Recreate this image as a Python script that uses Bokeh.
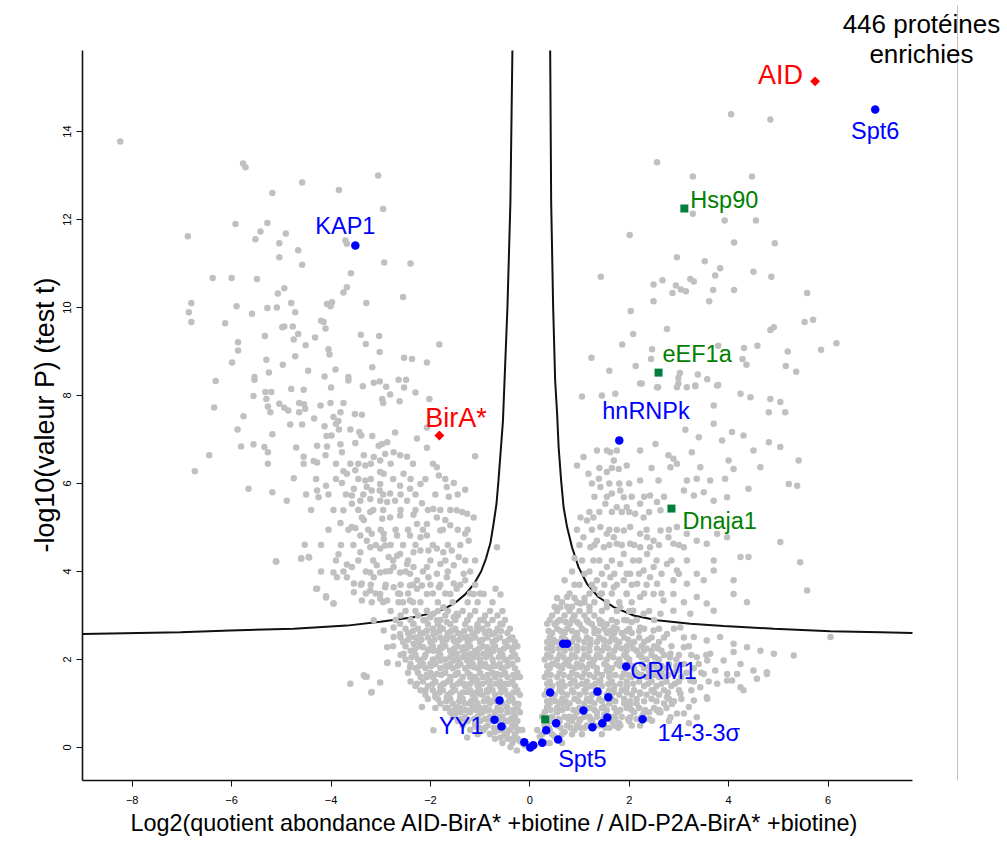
from bokeh.plotting import figure
from bokeh.models import Range1d, FixedTicker, Label, Title
from bokeh.embed import file_html
from bokeh.resources import INLINE

# ---------------- data ----------------
x_ticks = [-8, -6, -4, -2, 0, 2, 4, 6]
y_ticks = [0, 2, 4, 6, 8, 10, 12, 14]
x_axis_extent = (-9.0, 7.70)
y_axis_extent = (-0.75, 15.84)

x_title = "Log2(quotient abondance AID-BirA* +biotine / AID-P2A-BirA* +biotine)"
y_title = "-log10(valeur P) (test t)"
note_lines = ["446 protéines", "enrichies"]

# threshold curve (two branches)
curve_left_x = [-0.35, -0.39, -0.45, -0.54, -0.59, -0.63, -0.67, -0.73, -0.79, -0.88, -0.98, -1.12, -1.30, -1.50, -1.70, -1.95,
                -2.34, -3.01, -3.68, -4.75, -6.03, -7.03, -9.0]
curve_left_y = [15.84, 12.4, 10.0, 7.43, 6.67, 6.07, 5.54, 5.08, 4.66, 4.30, 4.00, 3.72, 3.48, 3.29, 3.16, 3.06,
                2.96, 2.86, 2.77, 2.70, 2.66, 2.62, 2.58]
curve_right_x = [0.41, 0.43, 0.47, 0.51, 0.55, 0.58, 0.63, 0.68, 0.75, 0.85, 0.98, 1.15, 1.38, 1.69, 2.09, 2.56, 3.23, 3.90,
                 4.91, 6.05, 7.05, 7.70]
curve_right_y = [15.84, 12.4, 10.0, 8.34, 7.58, 6.83, 6.07, 5.46, 5.01, 4.55, 4.10, 3.72, 3.42, 3.19, 3.00, 2.89, 2.81, 2.76,
                 2.70, 2.64, 2.62, 2.60]

# background proteins (grey), grouped by region
left_upper = [(-8.24,13.77),(-5.77,13.27),(-5.72,13.19),(-4.58,12.84),(-3.84,12.67),(-3.05,13.0),(-5.18,12.6),(-2.95,12.24),
 (-5.92,11.9),(-5.28,11.92),(-5.42,11.73),(-4.91,11.68),(-6.88,11.62),(-5.52,11.55),(-5.04,11.46),(-3.71,11.52),(-3.68,11.45),
 (-4.66,11.3),(-5.04,11.14),(-4.58,10.97),(-2.93,11.02),(-2.40,11.0),(-3.60,10.78),(-6.38,10.67),(-6.0,10.67),(-5.49,10.65),
 (-4.94,10.44),(-5.07,10.32),(-3.68,10.46),(-3.75,10.34),(-2.55,10.24),(-6.81,10.1),(-6.86,9.89),(-6.81,9.67),(-5.9,10.03),
 (-5.28,9.99),(-5.09,10.0),(-4.8,10.1),(-4.72,9.89),(-5.59,9.86),(-4.08,10.08),(-3.98,10.12),(-4.01,10.03),(-3.29,10.1),
 (-6.13,9.64),(-4.2,9.7),(-4.15,9.67),(-4.11,9.52),(-4.98,9.55),(-4.94,9.57),(-4.77,9.57),(-5.33,9.35),(-4.66,9.4),(-4.75,9.27),
 (-4.51,9.14),(-4.32,9.32),(-3.4,9.38),(-3.3,9.17),(-3.03,9.35),(-3.02,8.99),(-5.87,9.21),(-5.87,9.02),(-5.99,8.75),(-4.05,9.05),
 (-4.03,8.93),(-4.72,8.89),(-5.3,8.81),(-4.97,8.7),(-1.82,9.16),(-2.53,8.86),(-2.37,8.83),(-2.07,8.75),(-3.17,8.64),(-3.91,8.59),
 (-4.46,8.56),(-5.25,8.52),(-6.32,8.33),(-5.54,8.42),(-5.54,8.36),(-4.13,8.43),(-3.65,8.42),(-3.65,8.34),(-3.14,8.29),(-3.02,8.32),
 (-2.89,8.2),(-2.64,8.36),(-2.49,8.36),(-2.53,8.18),(-2.3,8.07),(-3.36,8.21),(-4.0,8.18),(-4.55,8.13),(-4.8,8.15),(-5.32,8.08),
 (-5.2,8.08),(-5.56,7.99),(-5.3,7.92),(-5.27,7.75),(-5.22,7.62),(-6.35,7.73),(-5.76,7.53),(-5.88,7.23),(-5.04,7.81),(-4.94,7.72),
 (-4.86,7.66),(-4.64,7.83),(-4.54,7.8),(-4.52,7.7),(-4.64,7.62),(-4.21,7.77),(-4.01,7.83),(-3.75,7.83),(-3.81,7.62),(-3.95,7.51),
 (-4.34,7.48),(-3.52,7.58),(-3.38,7.56),(-2.97,7.92),(-2.95,7.83),(-2.81,8.02),(-2.62,7.87),(-2.02,7.92),(-4.82,7.34),(-4.58,7.34),
 (-4.13,7.30),(-3.9,7.36),(-3.85,7.42),(-3.84,7.23),(-3.61,7.23),(-3.43,7.17),(-3.39,7.09),(-3.17,7.08),(-2.97,6.9),(-2.71,7.16),
 (-2.27,7.02),(-2.07,7.27),(-2.07,6.81),(-5.18,7.12),(-5.81,6.84),(-5.56,6.89),(-5.34,6.83),(-4.7,6.82),(-4.28,6.86),(-4.09,7.08),
 (-3.99,7.09),(-4.08,6.84),(-3.81,6.89),(-3.51,6.92),(-3.04,6.86),(-2.87,6.94)]

left_mid = [(-6.45,6.64),(-5.27,6.71),(-5.27,6.45),(-4.55,6.61),(-4.35,6.51),(-4.28,6.48),(-4.11,6.64),(-3.78,6.71),(-3.61,6.45),
 (-3.34,6.64),(-3.14,6.6),(-3.01,6.52),(-2.91,6.67),(-2.74,6.71),(-2.61,6.64),(-2.47,6.61),(-6.74,6.28),(-4.75,6.12),(-3.75,6.28),
 (-3.68,6.22),(-3.51,6.3),(-3.31,6.41),(-3.01,6.26),(-2.94,6.22),(-2.54,6.22),(-1.87,6.37),(-1.83,6.18),(-1.1,6.62),
 (-5.66,5.88),(-5.18,5.8),(-4.89,5.61),(-4.28,5.84),(-4.25,5.69),(-4.1,5.95),(-3.78,6.01),(-3.54,5.88),(-3.58,5.73),(-3.31,6.07),
 (-3.28,5.92),(-3.18,5.84),(-3.01,5.99),(-3.02,5.84),(-2.81,5.77),(-2.61,5.95),(-2.41,5.88),(-2.2,5.99),(-1.67,5.92),(-1.53,6.01),
 (-1.3,5.86),(-3.75,5.39),(-3.58,5.54),(-3.41,5.61),(-3.21,5.65),(-3.01,5.61),(-2.87,5.58),(-2.71,5.61),(-2.47,5.61),(-2.17,5.55),
 (-1.94,5.42),(-1.63,5.7),(-3.81,5.1),(-3.58,5.01),(-3.51,4.99),(-3.38,5.23),(-3.34,5.17),(-3.21,5.35),(-2.97,5.2),(-2.81,5.23),
 (-2.61,5.27),(-2.34,5.29),(-2.27,5.08),(-2.07,5.08),(-1.87,5.23),(-1.7,5.17),(-1.47,5.39),(-1.36,5.35),(-1.26,5.31),(-1.13,5.23),
 (-3.41,4.82),(-3.18,4.86),(-2.94,4.86),(-2.94,4.74),(-2.67,4.82),(-2.41,4.82),(-2.2,4.78),(-2.07,4.82),(-1.8,4.93),(-1.6,5.05),
 (-1.3,4.86),(-1.23,4.7),(-4.53,4.61),(-4.6,4.29),(-4.45,4.33),(-5.11,4.23),(-3.85,4.39),(-3.68,4.16),(-3.58,4.1),(-3.41,4.44),
 (-3.28,4.7),(-3.21,4.55),(-3.01,4.52),(-2.91,4.59),(-2.84,4.33),(-2.67,4.36),(-2.61,4.4),(-2.47,4.17),(-2.34,4.44),(-2.2,4.48),
 (-2.04,4.48),(-1.87,4.52),(-1.74,4.44),(-1.57,4.48),(-1.43,4.33),(-1.8,4.17),(-1.53,4.14),(-0.66,4.55),(-3.08,4.14),(-2.74,4.1),
 (-2.34,4.1),(-2.07,4.1),(-3.95,3.98),(-3.88,3.87),(-3.68,3.87),(-3.54,3.73),(-3.38,3.73),(-3.21,3.98),(-3.14,3.87),(-3.01,3.98),
 (-2.81,4.01),(-2.61,3.98),(-2.41,3.95),(-2.27,3.8),(-2.17,3.68),(-2.04,3.87),(-1.87,3.95),(-1.67,3.87),(-1.53,3.73),(-1.33,3.95),
 (-1.3,3.8),(-4.28,3.61),(-4.1,3.44),(-3.95,3.27),(-3.54,3.53),(-3.38,3.34),(-3.21,3.57),(-3.01,3.49),(-2.91,3.64),(-2.74,3.64),
 (-2.61,3.49),(-2.41,3.68),(-2.27,3.61),(-2.07,3.49),(-1.83,3.64),(-1.6,3.49),(-1.47,3.61),(-1.13,3.49),(-0.93,3.49),(-0.69,3.61),
 (-0.59,3.48),(-3.18,3.3),(-3.01,3.38),(-2.87,3.34),(-2.64,3.3),(-2.41,3.34),(-2.2,3.3),(-2.07,3.11),(-1.94,3.04),(-1.74,3.19),
 (-1.53,2.96),(-3.14,2.89),(-2.94,2.66),(-2.74,2.73),(-2.61,2.81),(-2.34,2.81),(-2.14,2.89),(-2.0,2.96),(-1.87,2.89),(-1.67,2.85),
 (-1.47,3.04),(-1.26,2.89),(-1.06,2.73),(-0.93,2.89),(-0.76,2.58),(-0.59,2.81),(-5.1,4.23),(-4.6,4.3),(-4.44,4.32),(-4.3,3.61),
 (-4.1,3.41),(-3.95,3.27)]

left_lower = [(-2.87,2.28),(-2.74,2.51),(-2.61,2.58),(-2.41,2.51),(-2.34,2.36),(-2.2,2.58),(-2.07,2.66),(-1.94,2.58),(-1.8,2.73),
 (-1.67,2.51),(-1.53,2.43),(-1.4,2.58),(-1.26,2.51),(-1.13,2.58),(-1.0,2.43),(-0.86,2.28),(-0.73,2.2),(-0.59,2.13),(-0.39,2.47),
 (-0.33,2.28),(-2.54,2.13),(-2.34,2.2),(-2.14,2.28),(-1.94,2.2),(-1.8,2.28),(-1.6,2.2),(-1.47,2.13),(-1.33,2.28),(-1.2,2.13),
 (-1.06,2.13),(-0.93,2.13),(-2.87,1.92),(-2.41,1.83),(-2.2,1.98),(-2.0,1.9),(-1.8,1.98),(-1.67,1.83),(-1.53,1.98),(-1.4,1.9),
 (-1.26,1.98),(-1.13,1.83),(-1.0,1.9),(-0.86,1.83),(-0.73,1.9),(-0.59,1.83),(-0.46,1.98),(-0.29,1.6),(-2.27,1.45),(-2.07,1.6),
 (-1.87,1.67),(-1.74,1.45),(-1.6,1.52),(-1.47,1.67),(-1.33,1.45),(-1.2,1.6),(-1.06,1.52),(-0.93,1.6),(-0.8,1.52),(-0.66,1.67),
 (-0.49,1.45),(-3.34,1.64),(-3.28,1.61),(-3.61,1.45),(-3.18,1.26),(-3.01,1.48),(-2.86,1.93),(-3.31,1.61),(-3.19,1.25),(-2.17,0.92),
 (-1.8,1.3),(-1.67,1.14),(-1.53,1.3),(-1.4,1.14),(-1.26,1.26),(-1.13,1.07),(-1.0,1.22),(-0.86,1.3),(-0.73,1.07),(-0.59,1.37),
 (-0.39,1.14),(-0.26,1.26),(-1.47,0.92),(-1.26,0.84),(-1.13,0.92),(-1.0,0.77),(-0.86,0.84),(-0.59,0.84),(-0.46,0.92),(-0.33,0.77),
 (-0.23,0.99),(-1.06,0.46),(-0.93,0.39),(-0.8,0.31),(-0.66,0.39),(-0.59,0.23),(-0.46,0.31),(-0.33,0.16),(-0.23,0.39),(-0.39,0.01),
 (-0.26,-0.07),(-1.94,0.39),(-1.26,0.23),(-0.1,0.05),(-0.2,0.15),(-0.35,0.2),(-0.5,0.3),(-0.7,0.35),(-0.9,0.45),(-1.1,0.55),
 (-1.3,0.65),(-1.5,0.75),(-1.7,0.9),(-0.15,0.4),(-0.3,0.55),(-0.45,0.6),(-0.6,0.7),(-0.85,0.65),(-1.0,0.9),(-1.2,1.0),(-1.4,1.05),
 (-1.65,1.1),(-1.9,1.15),(-2.1,1.3),(-2.3,1.4)]

# dense part of the left cloud: (y, [x values])
left_dense_rows = [(0.1, [-0.15,-0.35,-0.55]), (0.2, [-0.25,-0.45,-0.7]), (0.3, [-0.3,-0.5,-0.8,-1.05]),
 (0.4, [-0.2,-0.4,-0.6,-0.95,-1.2]), (0.5, [-0.35,-0.6,-0.85,-1.1,-1.35]), (0.6, [-0.25,-0.5,-0.75,-1.0,-1.25,-1.45]),
 (0.7, [-0.3,-0.55,-0.8,-1.05,-1.3,-1.55]), (0.8, [-0.2,-0.45,-0.7,-0.95,-1.2,-1.4,-1.6]),
 (0.9, [-0.25,-0.45,-0.65,-0.9,-1.15,-1.4,-1.65,-1.9]), (1.0, [-0.3,-0.55,-0.8,-1.05,-1.3,-1.55,-1.8]),
 (1.1, [-0.35,-0.6,-0.85,-1.1,-1.35,-1.6,-1.85,-2.05]), (1.2, [-0.2,-0.45,-0.7,-0.95,-1.15,-1.4,-1.65,-1.9,-2.1]),
 (1.3, [-0.25,-0.5,-0.75,-1.0,-1.2,-1.5,-1.75,-1.95,-2.2]), (1.4, [-0.3,-0.55,-0.8,-1.05,-1.3,-1.55,-1.8,-2.05]),
 (1.5, [-0.35,-0.6,-0.85,-1.15,-1.4,-1.65,-1.9,-2.15,-2.4]), (1.6, [-0.2,-0.45,-0.7,-0.95,-1.1,-1.35,-1.6,-1.95,-2.2]),
 (1.7, [-0.25,-0.5,-0.75,-1.0,-1.25,-1.45,-1.7,-2.0,-2.25,-2.45]), (1.8, [-0.3,-0.55,-0.8,-1.05,-1.3,-1.55,-1.8,-2.1,-2.3]),
 (1.9, [-0.35,-0.6,-0.9,-1.15,-1.4,-1.6,-1.9,-2.15,-2.4,-2.65]), (2.0, [-0.25,-0.5,-0.75,-1.0,-1.2,-1.45,-1.7,-1.95,-2.25,-2.5]),
 (2.1, [-0.3,-0.55,-0.8,-1.05,-1.3,-1.55,-1.8,-2.1,-2.3,-2.6]), (2.2, [-0.35,-0.6,-0.85,-1.1,-1.35,-1.6,-1.85,-2.05,-2.4]),
 (2.3, [-0.25,-0.45,-0.7,-0.95,-1.2,-1.45,-1.7,-1.95,-2.2,-2.5,-2.75]), (2.4, [-0.3,-0.5,-0.75,-1.0,-1.25,-1.5,-1.75,-2.0,-2.25,-2.55]),
 (2.5, [-0.35,-0.6,-0.85,-1.1,-1.35,-1.55,-1.8,-2.05,-2.3,-2.6]), (2.6, [-0.45,-0.7,-0.9,-1.15,-1.45,-1.65,-1.9,-2.15,-2.45]),
 (2.7, [-0.4,-0.65,-0.95,-1.2,-1.5,-1.75,-1.95,-2.25,-2.5]), (2.8, [-0.55,-0.85,-1.05,-1.3,-1.6,-1.85,-2.05,-2.35]),
 (2.9, [-0.5,-0.75,-1.0,-1.25,-1.5,-1.8,-2.1,-2.4,-2.7]), (3.0, [-0.65,-0.9,-1.2,-1.45,-1.7,-2.0,-2.25,-2.6]),
 (3.1, [-0.55,-0.8,-1.1,-1.35,-1.65,-1.85,-2.3,-2.5,-2.8]), (3.3, [-0.75,-1.05,-1.25,-1.55,-1.85,-2.35,-2.55,-2.95]),
 (3.5, [-1.0,-1.2,-1.7,-1.95,-2.45,-2.65,-3.1,-3.3]), (3.7, [-1.1,-1.4,-1.8,-2.0,-2.35,-2.6,-2.9,-3.2,-3.4]),
 (4.0, [-1.2,-1.65,-2.15,-2.5,-2.9,-3.3,-3.75,-4.2]), (4.25, [-1.1,-1.3,-1.7,-2.0,-2.45,-2.75,-3.15,-3.45,-3.9]),
 (4.6, [-1.4,-1.65,-1.95,-2.3,-2.55,-2.8,-3.1,-3.55,-3.8,-4.2]), (4.95, [-1.25,-1.45,-1.75,-2.15,-2.45,-2.7,-3.0,-3.25,-3.65,-4.05]),
 (5.4, [-1.6,-1.8,-2.05,-2.3,-2.6,-2.95,-3.15,-3.45,-3.95,-4.4]), (5.75, [-1.45,-1.9,-2.3,-2.6,-2.95,-3.35,-3.7,-4.05,-4.5]),
 (6.1, [-1.7,-2.1,-2.4,-2.75,-3.2,-3.45,-3.9,-4.3]), (6.45, [-1.95,-2.35,-2.8,-3.2,-3.45,-3.9,-4.55]),
 (0.45, [-0.28,-0.52,-0.72,-1.02]), (0.65, [-0.38,-0.62,-0.9,-1.12,-1.38]), (0.85, [-0.33,-0.58,-0.82,-1.08,-1.32,-1.52]),
 (1.05, [-0.42,-0.68,-0.92,-1.18,-1.42,-1.68]), (1.25, [-0.33,-0.58,-0.85,-1.08,-1.35,-1.58,-1.82]),
 (1.45, [-0.42,-0.68,-0.95,-1.2,-1.45,-1.72,-1.95]), (1.65, [-0.33,-0.58,-0.85,-1.2,-1.5,-1.78,-2.08]),
 (1.85, [-0.45,-0.7,-0.95,-1.22,-1.45,-1.7,-1.98,-2.22]), (2.05, [-0.38,-0.62,-0.88,-1.12,-1.35,-1.6,-1.85,-2.12,-2.38]),
 (2.25, [-0.52,-0.78,-1.02,-1.28,-1.52,-1.78,-2.0,-2.3]), (2.45, [-0.42,-0.68,-0.95,-1.2,-1.42,-1.68,-1.92,-2.18,-2.45]),
 (2.65, [-0.58,-0.82,-1.05,-1.32,-1.58,-1.82,-2.08,-2.35])]

right_upper = [(4.05,14.39),(4.84,14.27),(2.56,13.3),(3.28,12.98),(4.47,12.98),(3.28,12.13),(3.92,11.98),(4.55,11.98),(2.01,11.65),
 (4.11,11.48),(4.93,11.46),(2.96,11.14),(3.52,11.05),(3.83,10.89),(3.73,10.73),(4.5,10.81),(4.86,10.7),(1.43,10.7),(2.49,10.52),
 (2.67,10.62),(3.23,10.65),(3.3,10.59),(2.94,10.5),(3.04,10.41),(3.14,10.37),(2.87,10.33),(3.69,10.4),(4.11,10.4),(5.58,10.33),
 (2.49,10.14),(3.61,10.14),(2.03,9.92),(2.76,9.51),(2.08,9.4),(4.84,9.49),(4.91,9.55),(5.53,9.67),(5.7,9.72),(1.86,9.16),
 (2.46,9.05),(3.79,9.13),(4.31,9.08),(4.58,9.13),(5.19,9.0),(5.86,9.04),(6.17,9.19),(1.24,8.86),(1.6,8.56),(2.13,8.67),(2.44,8.83),
 (4.28,8.83),(4.36,8.7),(5.15,8.67),(5.36,8.54),(3.02,8.51),(3.38,8.48),(3.57,8.37),(3.79,8.24),(2.99,8.4),(2.25,8.27),(2.58,8.19),
 (2.96,8.19),(3.16,8.19),(3.33,8.21)]

right_mid = [(2.22,8.27),(2.56,8.19),(2.99,8.27),(3.33,8.23),(3.77,8.23),(1.05,7.98),(1.45,8.0),(1.72,8.04),(4.24,8.04),(4.44,7.96),
 (4.84,7.92),(5.04,7.85),(3.7,7.77),(4.81,7.62),(5.14,7.62),(3.7,7.36),(4.07,7.17),(3.87,6.98),(3.4,7.05),(4.3,7.09),(3.13,7.22),
 (4.81,6.94),(5.04,6.83),(4.5,6.75),(2.22,6.75),(2.53,6.9),(1.35,6.75),(1.62,6.71),(1.69,6.52),(1.08,6.6),(0.95,6.41),(1.18,6.22),
 (1.39,6.11),(1.55,6.26),(1.79,6.33),(1.95,6.41),(2.79,6.64),(2.89,6.56),(2.96,6.45),(2.83,6.37),(3.26,6.71),(3.43,6.37),(4.0,6.52),
 (4.1,6.33),(3.93,6.11),(3.63,6.07),(3.36,6.11),(3.16,6.07),(2.59,6.07),(2.22,6.07),(4.64,6.37),(5.41,6.52),(5.21,5.99),(5.38,5.95),
 (4.4,5.88),(1.42,5.92),(1.65,5.77),(1.82,5.84),(1.89,5.69),(1.52,5.54),(1.75,5.46),(1.95,5.46),(2.22,5.54),(2.42,5.73),(2.56,5.58),
 (2.63,5.39),(3.1,5.84),(3.3,5.73),(3.5,5.8),(3.7,5.61),(3.97,5.69),(2.12,5.31),(2.29,5.23),(1.02,5.23),(1.15,5.16),(1.28,5.23),
 (1.42,5.01),(1.55,4.86),(1.35,4.7),(1.69,4.78),(1.89,4.93),(2.02,5.01),(2.22,4.86),(2.36,4.78),(2.49,4.7),(2.63,4.93),(2.79,4.78),
 (2.96,5.01),(3.16,4.86),(3.36,4.7),(3.56,4.63),(3.77,4.86),(3.97,4.78),(5.04,4.67),(1.08,4.78),(1.22,4.55),(1.49,4.55),(1.75,4.63),
 (2.02,4.63),(2.22,4.55),(2.42,4.55),(2.89,4.63),(3.1,4.55),(1.89,4.4),(2.08,4.25),(2.36,4.4),(1.28,4.25),(1.55,4.1),(1.82,4.17),
 (2.02,3.95),(2.29,4.02),(2.49,4.1),(2.76,4.17),(2.96,4.02),(3.16,4.25),(3.36,3.95),(3.7,4.25),(4.24,4.33),(4.4,4.33),(5.44,4.21),
 (1.35,3.8),(1.62,3.87),(1.89,3.8),(2.16,3.72),(2.42,3.87),(2.56,3.72),(2.89,3.8),(3.16,3.72),(3.5,3.8),(3.7,4.02),(4.1,3.8),
 (1.42,3.49),(1.69,3.64),(1.95,3.49),(2.22,3.42),(2.49,3.49),(2.69,3.34),(2.89,3.49),(3.1,3.3),(3.36,3.42),(3.56,3.27),(4.1,3.49),
 (4.37,3.3),(5.58,3.57),(0.75,3.42),(0.61,3.19),(1.02,3.27),(1.55,3.19),(1.82,3.19),(2.08,3.11),(2.29,3.04),(2.63,3.04),(2.89,3.11),
 (3.23,3.04),(3.7,3.11),(0.85,4.0),(0.9,4.3),(1.0,3.7),(0.7,3.8),(1.2,4.0),(1.3,3.6),(1.1,3.3)]

right_lower = [(0.35,2.81),(0.61,2.89),(0.88,2.96),(1.15,2.89),(1.42,2.81),(1.69,2.73),(1.95,2.89),(2.22,2.73),(2.49,2.66),(2.76,2.58),
 (3.03,2.73),(3.3,2.51),(3.56,2.43),(3.83,2.51),(4.1,2.36),(4.37,2.28),(4.64,2.2),(4.91,2.13),(5.31,2.09),(6.05,2.51),(0.41,2.36),
 (0.68,2.43),(0.95,2.51),(1.22,2.36),(1.49,2.43),(1.75,2.28),(2.02,2.36),(2.29,2.2),(2.56,2.28),(2.83,2.13),(3.1,2.28),(3.36,2.05),
 (3.63,2.13),(3.9,1.98),(4.17,1.67),(4.5,1.75),(4.77,1.67),(0.48,1.9),(0.75,1.98),(1.02,1.83),(1.28,1.98),(1.55,1.75),(1.82,1.9),
 (2.16,1.67),(2.42,1.83),(2.69,1.6),(2.96,1.75),(3.23,1.52),(3.5,1.67),(3.77,1.45),(3.97,1.52),(4.24,1.37),(0.61,1.37),(0.88,1.52),
 (1.15,1.37),(1.42,1.52),(1.69,1.3),(1.95,1.37),(2.22,1.22),(2.49,1.3),(2.76,1.14),(3.03,1.22),(3.3,1.07),(3.56,1.14),(0.35,0.92),
 (0.68,0.99),(0.95,0.84),(1.22,1.07),(1.49,0.92),(1.75,0.84),(2.02,0.99),(2.29,0.77),(2.56,0.84),(2.83,0.69),(3.1,0.77),(3.36,0.69),
 (4.77,1.71),(4.57,1.56),(4.3,1.3),(4.07,1.52),(4.24,1.9),(4.1,2.17),(3.97,1.67),(3.73,1.75),(3.57,1.98),(3.43,1.37),(3.57,1.11),
 (3.2,0.92),(2.96,0.77),(2.86,0.99),(2.63,0.8),(2.22,0.5),(1.82,0.5),(2.02,0.69),(2.46,0.61),(0.3,0.1),(0.5,0.25),(0.7,0.35),
 (0.9,0.4),(1.1,0.45),(1.3,0.5),(1.6,0.45),(1.8,0.55),(2.0,0.6),(2.4,0.65),(2.8,0.6),(0.4,0.4),(0.6,0.6),(0.8,0.7),(1.0,0.6),
 (1.2,0.7),(1.5,0.75),(1.7,0.7),(2.1,0.8),(2.6,0.8),(3.2,0.55),(0.2,0.25),(0.35,0.55),(0.15,0.4)]

# dense part of the right cloud: (y, [x values])
right_dense_rows = [(0.1, [0.4,0.65]), (0.3, [0.25,0.45,0.65,0.85,1.05,1.45]), (0.5, [0.3,0.55,0.75,0.95,1.15,1.4,1.7,2.05]),
 (0.6, [0.45,0.85,1.25,1.65]), (0.7, [0.25,0.45,0.7,0.9,1.1,1.35,1.6,1.85,2.25]), (0.8, [0.3,0.55,0.95,1.35,1.75,2.4]),
 (0.9, [0.35,0.55,0.75,1.0,1.2,1.45,1.7,1.95,2.2,2.5,2.75]), (1.0, [0.4,0.6,0.8,1.1,1.3,1.6,1.9,2.15,2.7]),
 (1.1, [0.45,0.65,0.9,1.15,1.4,1.65,1.9,2.15,2.45,2.8,3.05]), (1.2, [0.3,0.5,0.75,1.0,1.25,1.55,1.8,2.05,2.35,2.6]),
 (1.3, [0.35,0.6,0.85,1.1,1.35,1.6,1.85,2.1,2.45,2.7,3.0,3.25]), (1.4, [0.45,0.7,0.95,1.25,1.45,1.7,1.95,2.3,2.55,2.85]),
 (1.5, [0.4,0.65,0.9,1.15,1.4,1.65,1.95,2.2,2.45,2.75,3.0,3.3,3.6]), (1.6, [0.3,0.55,0.8,1.05,1.3,1.6,1.85,2.05,2.35,2.6,3.05]),
 (1.7, [0.35,0.6,0.85,1.1,1.35,1.6,1.9,2.15,2.4,2.65,2.9,3.15,3.45]), (1.8, [0.4,0.65,0.9,1.15,1.35,1.65,2.1,2.3,2.55,2.75,3.3]),
 (1.9, [0.45,0.7,0.95,1.2,1.5,1.75,2.0,2.25,2.5,2.8,3.1,3.4]), (2.0, [0.3,0.55,0.8,1.05,1.3,1.55,1.8,2.0,2.35,2.6,2.95]),
 (2.1, [0.35,0.6,0.85,1.1,1.35,1.6,1.9,2.2,2.45,2.7,3.0,3.25,3.55]), (2.2, [0.45,0.7,0.95,1.2,1.45,1.7,1.95,2.15,2.45,2.65]),
 (2.3, [0.45,0.7,0.95,1.2,1.5,1.75,1.95,2.25,2.5,2.85,3.2]), (2.4, [0.35,0.55,0.85,1.1,1.35,1.6,1.8,2.1,2.3,2.6]),
 (2.5, [0.4,0.65,0.9,1.15,1.4,1.65,1.9,2.2,2.45,2.7,3.1]), (2.6, [0.45,0.7,0.95,1.3,1.55,1.7,1.85,2.05]),
 (2.7, [0.55,0.75,1.05,1.3,1.5,1.75,2.0,2.3,2.6,2.9]), (2.8, [0.5,0.8,1.0,1.25,1.55]),
 (2.9, [0.4,0.6,0.85,1.15,1.4,1.65,1.9,2.15,2.5]), (3.0, [0.45,0.7,0.9,1.1,1.3]),
 (3.1, [0.55,0.8,1.0,1.2,1.45,1.75,2.0,2.4]), (3.2, [0.5,0.75,0.85,1.2]), (3.3, [0.65,0.95,1.3,1.55,1.8,2.05]),
 (3.4, [0.55,0.9,1.1]), (3.5, [0.8,1.2,1.45,1.65,1.95,2.3,2.65]), (3.7, [0.9,1.25,1.5,1.75,2.05,2.35]),
 (3.95, [1.1,1.45,1.7,1.95,2.2,2.65,3.0]), (4.25, [1.05,1.4,1.65,2.2,2.55,2.85]), (4.6, [1.0,1.3,1.6,1.85,2.1,2.6,3.0]),
 (4.95, [0.95,1.25,1.6,1.75,2.35,2.8]), (5.35, [1.2,1.4,1.65,1.85,2.0,2.4]), (5.7, [1.3,1.55,2.05,2.3,2.7]),
 (6.0, [1.25,1.6,1.8,2.0]), (6.35, [1.4,1.65,2.45]), (6.75, [1.55,1.75]),
 (0.45, [0.38,0.62,0.82,1.02,1.25,1.52,1.78]), (0.65, [0.35,0.58,0.78,1.02,1.22,1.48,1.72,1.98,2.15]),
 (0.85, [0.42,0.65,0.88,1.08,1.3,1.55,1.82,2.05,2.32,2.6]), (1.05, [0.35,0.52,0.72,0.98,1.22,1.45,1.72,2.02,2.3,2.55,2.9]),
 (1.25, [0.42,0.65,0.88,1.12,1.4,1.68,1.95,2.22,2.5,2.78]), (1.45, [0.35,0.58,0.82,1.05,1.32,1.58,1.82,2.08,2.38,2.65,2.92]),
 (1.65, [0.42,0.68,0.95,1.2,1.45,1.72,1.98,2.25,2.5,2.78]), (1.85, [0.35,0.58,0.8,1.05,1.28,1.55,1.82,2.05,2.42,2.65,2.95]),
 (2.05, [0.42,0.68,0.92,1.18,1.42,1.68,1.95,2.25,2.52,2.82]), (2.25, [0.35,0.58,0.82,1.08,1.35,1.58,1.85,2.08,2.35,2.58]),
 (2.45, [0.48,0.72,0.98,1.22,1.48,1.72,1.98,2.38]), (2.65, [0.38,0.62,0.85,1.12,1.38,1.62,1.95,2.2]),
 (2.85, [0.55,0.72,0.95,1.18,1.45,1.75,2.05])]

# highlighted proteins
blue_x = [6.95, -3.51, 1.80, 1.94, 2.27, -0.71, 0.57, -0.61, -0.57, 0.67, 0.75, 0.41, 1.36, 1.58, 1.08, 1.56, 1.46, 1.26, 0.53, 0.33, 0.25, 0.07, 0.01, -0.11]
blue_y = [14.5, 11.41, 6.98, 1.84, 0.64, 0.63, 0.18, 1.07, 0.48, 2.36, 2.36, 1.25, 1.27, 1.14, 0.84, 0.68, 0.55, 0.46, 0.55, 0.39, 0.11, 0.05, 0.0, 0.12]
blue_names = ["Spt6", "KAP1", "hnRNPk", "CRM1", "14-3-3σ", "YY1", "Spt5"]

red_x = [5.74, -1.82]
red_y = [15.14, 7.09]
red_names = ["AID", "BirA*"]

green_x = [3.11, 2.59, 2.85, 0.31]
green_y = [12.25, 8.52, 5.43, 0.64]
green_names = ["Hsp90", "eEF1a", "Dnaja1"]

# ---------------- assemble ----------------
bg = left_upper + left_mid + left_lower + right_upper + right_mid + right_lower
for yy, xs in left_dense_rows + right_dense_rows:
    bg += [(xx, yy) for xx in xs]
bg_x = [a for a, b in bg]
bg_y = [b for a, b in bg]

FONT = "Liberation Sans"
W, H = 1005, 842
FL, FB = 82, 780            # frame left / bottom in pixels (frame reaches the top and right edge)
PX_X, PX_Y = 49.7, 44.0     # pixels per data unit
x_end = x_axis_extent[0] + (W - FL) / PX_X
y_end = y_axis_extent[0] + FB / PX_Y

p = figure(width=W, height=H, output_backend="svg", toolbar_location=None,
           x_range=Range1d(x_axis_extent[0], x_end), y_range=Range1d(y_axis_extent[0], y_end),
           min_border_left=FL, min_border_right=0, min_border_top=0, min_border_bottom=H - FB)
p.outline_line_color = None
p.grid.visible = False
p.background_fill_color = "white"

for ax in (p.xaxis, p.yaxis):
    ax.axis_line_color = "#111111"
    ax.axis_line_width = 1.6
    ax.major_tick_line_color = "#111111"
    ax.major_tick_out = 6
    ax.major_tick_in = 0
    ax.minor_tick_line_color = None
    ax.major_label_text_font = FONT
    ax.major_label_text_font_size = "11px"
    ax.major_label_text_color = "black"

p.xaxis.bounds = x_axis_extent
p.yaxis.bounds = y_axis_extent
p.xaxis.ticker = FixedTicker(ticks=x_ticks)
p.yaxis.ticker = FixedTicker(ticks=y_ticks)
p.xaxis.major_label_standoff = 9
p.yaxis.major_label_standoff = 6
p.yaxis.major_label_orientation = "vertical"

# axis titles as side titles so they can be centred on the drawn axis extent
p.add_layout(Title(text=x_title, align="left", offset=48, standoff=3, text_font=FONT,
                   text_font_size="23.4px", text_font_style="normal", text_color="black"), "below")
p.add_layout(Title(text=y_title, align="left", offset=228, standoff=0, text_font=FONT,
                   text_font_size="26.9px", text_font_style="normal", text_color="black"), "left")

# threshold curve
p.line(curve_left_x, curve_left_y, line_color="#111111", line_width=2)
p.line(curve_right_x, curve_right_y, line_color="#111111", line_width=2)

# background
p.scatter(bg_x, bg_y, size=6.5, fill_color="#c0c0c0", line_color=None)

# highlighted
p.scatter(blue_x, blue_y, size=8.5, fill_color="#0000ff", line_color=None)
p.scatter(green_x, green_y, marker="square", size=8, fill_color="#00803c", line_color=None)
p.scatter(red_x, red_y, marker="square", angle=0.785398, size=7, fill_color="#ff0000", line_color=None)

def lab(x, y, text, color, size, dx, dy, align):
    p.add_layout(Label(x=x, y=y, text=text, x_offset=dx, y_offset=dy + 9, text_align=align,
                       text_baseline="alphabetic", text_font=FONT, text_font_size=size,
                       text_color=color))

# (offsets in screen pixels from the marker)
blue_off = [(0, -30, "center"), (-10, 10, "center"), (-17, 20, "left"), (4, -13, "left"),
            (15, -23, "left"), (-11, -15, "right"), (0, -28, "left")]
for i, name in enumerate(blue_names):
    dx, dy, al = blue_off[i]
    lab(blue_x[i], blue_y[i], name, "#0000ff", "23.5px", dx, dy, al)

red_off = [(-12, -3, "right"), (-14, 9, "left")]
for i, name in enumerate(red_names):
    dx, dy, al = red_off[i]
    lab(red_x[i], red_y[i], name, "#ff0000", "27px", dx, dy, al)

green_off = [(6, 0, "left"), (4, 10, "left"), (11, -21, "left")]
for i, name in enumerate(green_names):
    dx, dy, al = green_off[i]
    lab(green_x[i], green_y[i], name, "#008000", "23.5px", dx, dy, al)

# note at the top right (placed in data units right of the axis)
lab(7.88, 16.25, note_lines[0], "black", "26px", 0, 0, "center")
lab(7.88, 15.55, note_lines[1], "black", "26px", 0, 0, "center")

# thin grey separator line on the right
p.segment(x0=[8.606], y0=[-1.5], x1=[8.606], y1=[16.86], line_color="#c0c0c0", line_width=1)

open("out.html", "w").write(file_html(p, INLINE))
